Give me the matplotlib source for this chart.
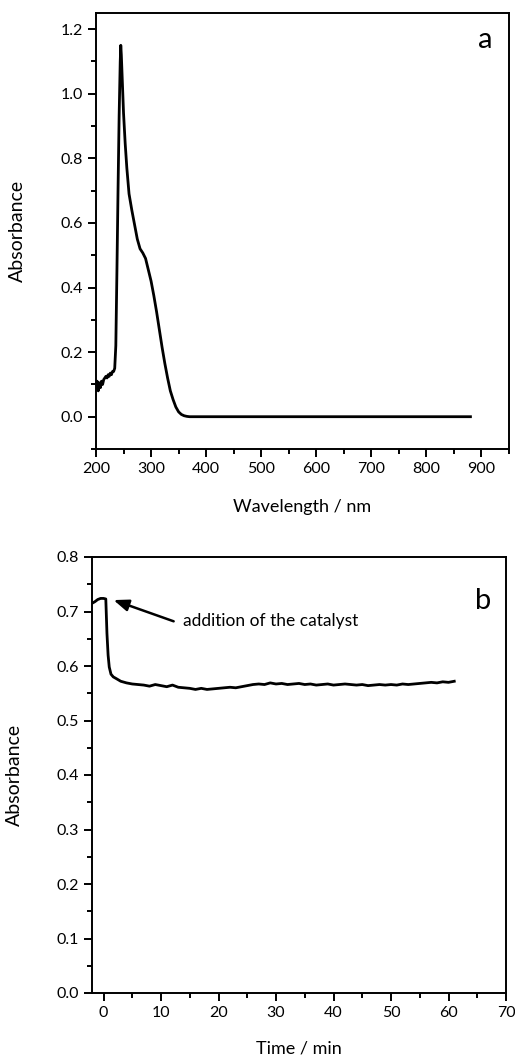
import matplotlib.pyplot as plt
from matplotlib.ticker import MultipleLocator

plt.rcParams['font.family'] = ['Lato', 'DejaVu Sans']

# panel a: UV-vis spectrum
wavelength = [200, 202, 204, 206, 208, 210, 212, 214, 216, 218, 220, 222, 224, 226,
              228, 230, 232, 234, 236, 238, 240, 242, 244, 245, 246, 248, 250, 253,
              256, 260, 265, 270, 275, 280, 285, 290, 295, 300, 305, 310, 315, 320,
              325, 330, 335, 340, 345, 350, 355, 360, 365, 370, 380, 400, 500, 600,
              700, 800, 880]
absorbance = [0.09, 0.11, 0.08, 0.105, 0.09, 0.11, 0.10, 0.115, 0.12, 0.125, 0.12, 0.13,
              0.125, 0.135, 0.13, 0.14, 0.14, 0.15, 0.22, 0.45, 0.70, 0.93, 1.10, 1.15,
              1.12, 1.03, 0.94, 0.846, 0.77, 0.69, 0.64, 0.595, 0.55, 0.52, 0.507, 0.49,
              0.455, 0.42, 0.375, 0.325, 0.27, 0.215, 0.165, 0.12, 0.08, 0.053, 0.03,
              0.015, 0.007, 0.003, 0.001, 0.0, 0.0, 0.0, 0.0, 0.0, 0.0, 0.0, 0.0]

# panel b: absorbance vs time
time_min = [-2, -1.5, -1, -0.5, 0, 0.4, 0.6, 0.8, 1.0, 1.3, 1.7, 2.2, 3] + list(range(4, 62))
abs_time = [0.715, 0.718, 0.722, 0.724, 0.724, 0.723, 0.66, 0.62, 0.598, 0.585, 0.58,
            0.577, 0.572,
            0.569, 0.567, 0.566, 0.565, 0.563, 0.566, 0.564, 0.562, 0.565, 0.561,
            0.560, 0.559, 0.557, 0.559, 0.557, 0.558, 0.559, 0.560, 0.561, 0.560,
            0.562, 0.564, 0.566, 0.567, 0.566, 0.569, 0.567, 0.568, 0.566, 0.567,
            0.568, 0.566, 0.567, 0.565, 0.566, 0.567, 0.565, 0.566, 0.567, 0.566,
            0.565, 0.566, 0.564, 0.565, 0.566, 0.565, 0.566, 0.565, 0.567, 0.566,
            0.567, 0.568, 0.569, 0.570, 0.569, 0.571, 0.570, 0.572]

fig = plt.figure(figsize=(5.15, 10.59), dpi=100)
ax1 = fig.add_axes([96 / 515, 1 - 449 / 1059, 413 / 515, 436 / 1059])
ax2 = fig.add_axes([92 / 515, 1 - 993 / 1059, 414 / 515, 436 / 1059])


def style(ax):
    for s in ax.spines.values():
        s.set_linewidth(1.4)
    ax.tick_params(which='major', direction='out', length=6, width=1.4, labelsize=11.5,
                   top=False, right=False)
    ax.tick_params(which='minor', direction='out', length=3.5, width=1.4,
                   top=False, right=False)


ax1.plot(wavelength, absorbance, color='black', lw=2.0)
ax1.set_xlim(200, 950)
ax1.set_ylim(-0.1, 1.25)
ax1.xaxis.set_minor_locator(MultipleLocator(50))
ax1.yaxis.set_minor_locator(MultipleLocator(0.1))
ax1.set_xticks(range(200, 901, 100))
ax1.set_yticks([0.0, 0.2, 0.4, 0.6, 0.8, 1.0, 1.2])
ax1.set_yticklabels(['0.0', '0.2', '0.4', '0.6', '0.8', '1.0', '1.2'])
style(ax1)
ax1.set_xlabel('Wavelength / nm', fontsize=13)
ax1.set_ylabel('Absorbance', fontsize=14)
ax1.xaxis.set_label_coords(0.5, -0.115)
ax1.yaxis.set_label_coords(-0.17, 0.5)
ax1.text(0.942, 0.938, 'a', transform=ax1.transAxes, fontsize=21, ha='center', va='center')

ax2.plot(time_min, abs_time, color='black', lw=2.0)
ax2.set_xlim(-2, 70)
ax2.set_ylim(0.0, 0.8)
ax2.xaxis.set_major_locator(MultipleLocator(10))
ax2.xaxis.set_minor_locator(MultipleLocator(5))
ax2.yaxis.set_major_locator(MultipleLocator(0.1))
ax2.yaxis.set_minor_locator(MultipleLocator(0.05))
ax2.yaxis.set_major_formatter(lambda v, p: f'{v:.1f}')
style(ax2)
ax2.set_xlabel('Time / min', fontsize=13)
ax2.set_ylabel('Absorbance', fontsize=14)
ax2.xaxis.set_label_coords(0.5, -0.108)
ax2.yaxis.set_label_coords(-0.168, 0.5)
ax2.text(0.944, 0.9, 'b', transform=ax2.transAxes, fontsize=21, ha='center', va='center')
ax2.annotate('', xy=(1.75, 0.721), xytext=(12.2, 0.682),
             arrowprops=dict(arrowstyle='-|>,head_length=0.9,head_width=0.35',
                             lw=1.8, color='black', shrinkA=0, shrinkB=0))
ax2.text(13.8, 0.682, 'addition of the catalyst', fontsize=12.5, ha='left', va='center')

fig.savefig('out.png', dpi=100)
